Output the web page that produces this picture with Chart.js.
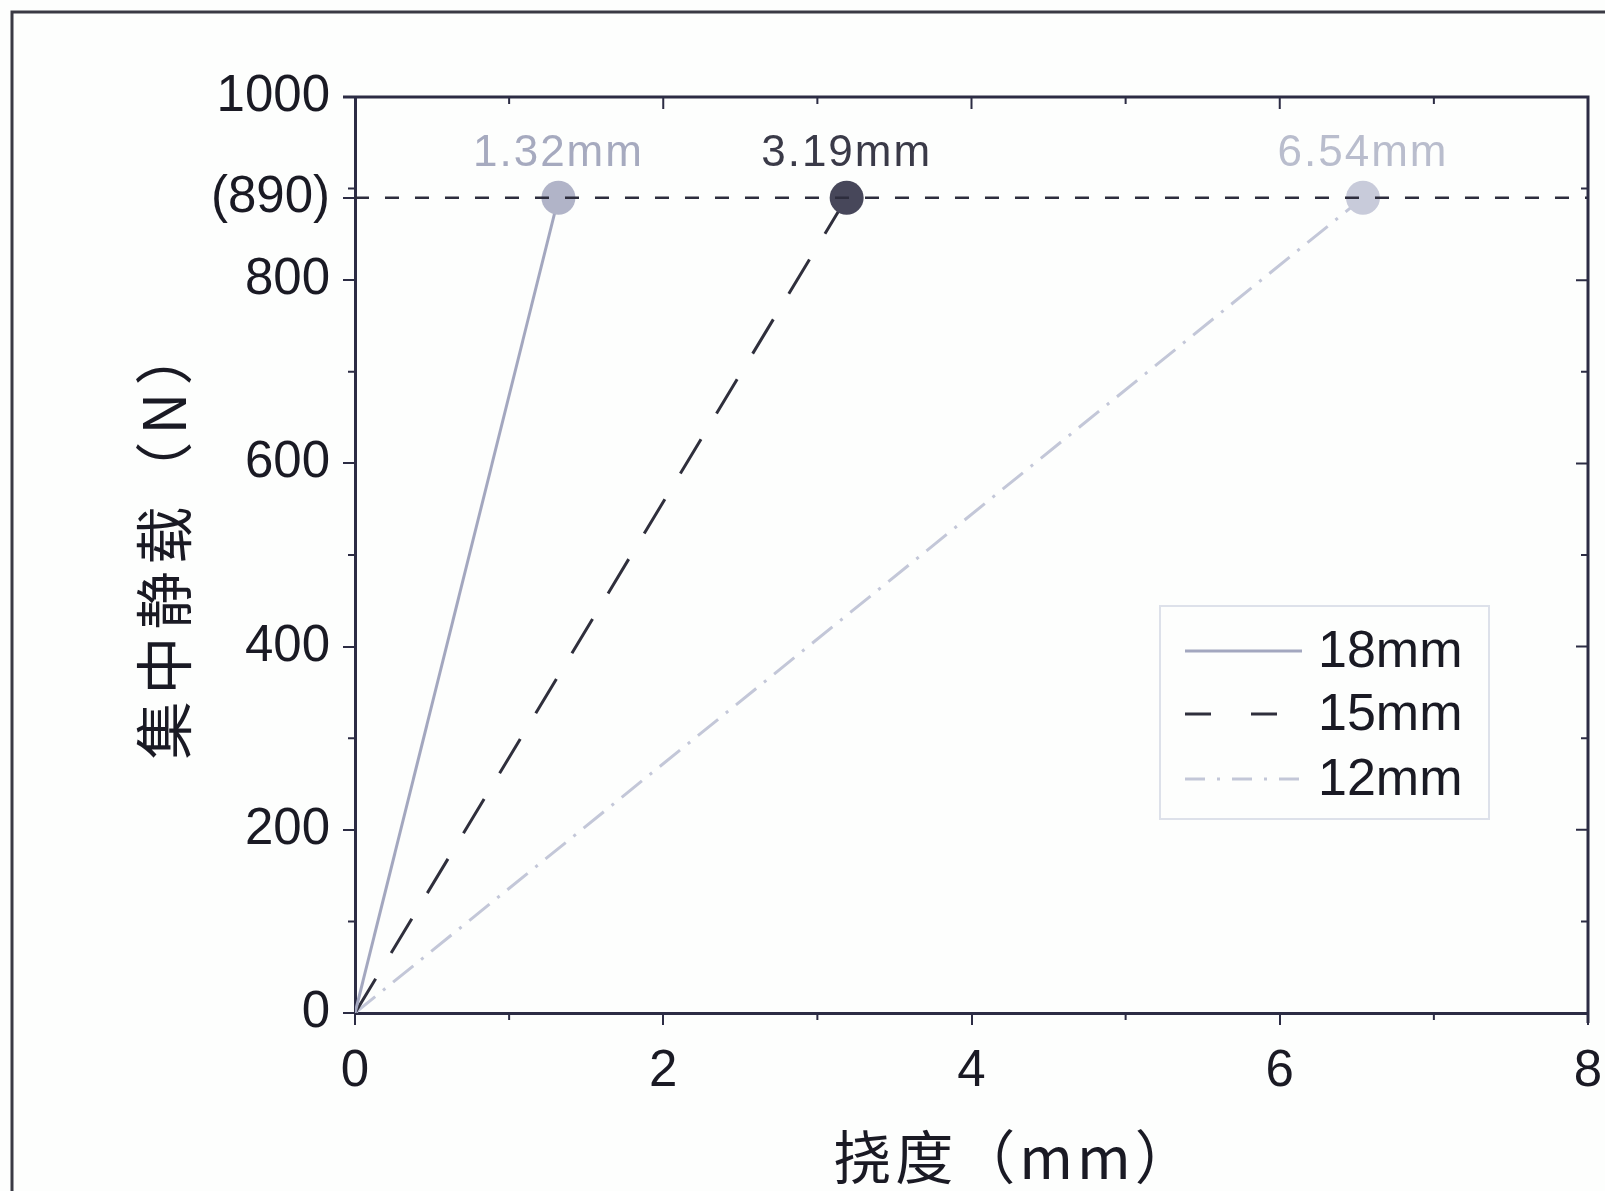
<!DOCTYPE html>
<html><head><meta charset="utf-8">
<script src="https://cdn.jsdelivr.net/npm/chart.js@4"></script>
<style>html,body{margin:0;padding:0;background:#fdfefd;} canvas{display:block}</style>
</head><body><canvas id="c" width="1605" height="1191"></canvas>
<script>
// ---- data ----
const seriesNames = ['18mm', '15mm', '12mm'];
const deflection18 = [0, 1.32];
const deflection15 = [0, 3.19];
const deflection12 = [0, 6.54];
const loadValues = [0, 890];
const limitLoad = 890;
const peakLabels = ['1.32mm', '3.19mm', '6.54mm'];
const xTicks = [0, 2, 4, 6, 8];
const yTicks = [0, 200, 400, 600, 800, 890, 1000];
const yTickLabels = ['0', '200', '400', '600', '800', '(890)', '1000'];
const xTitle = '挠度（mm）';
const yTitle = '集中静载（N）';

// ---- styles ----
const lineColors = ['#a3a7bf', '#2f2f3c', '#c3c7d8'];
const pointColors = ['#b1b4c8', '#47475a', '#c8cbda'];
const labelColors = ['#a6aabf', '#3a3a48', '#b9bdcd'];
const dashes = [[], [40, 30], [26, 10, 3, 10]];
const legendDashes = [[], [26, 40], [20, 12, 3, 12]];
const axisColor = '#2c2c44';
const textColor = '#1a1a24';

const toPts = (xs, ys) => xs.map((x, i) => ({x: x, y: ys[i]}));
const seriesX = [deflection18, deflection15, deflection12];

const datasets = seriesX.map((xs, i) => ({
  label: seriesNames[i],
  data: toPts(xs, loadValues),
  showLine: true,
  borderColor: lineColors[i],
  borderWidth: 3,
  borderDash: dashes[i],
  pointRadius: [0, 17],
  pointHoverRadius: [0, 17],
  pointBackgroundColor: pointColors[i],
  pointBorderWidth: 0,
  order: 1
}));
datasets.push({
  label: 'limit',
  data: [{x: xTicks[0], y: limitLoad}, {x: xTicks[xTicks.length - 1], y: limitLoad}],
  showLine: true,
  borderColor: '#2d2d3d',
  borderWidth: 2.5,
  borderDash: [14, 16],
  pointRadius: 0,
  order: 0
});

const extras = {
  id: 'extras',
  beforeDraw(chart) {
    const ctx = chart.ctx;
    ctx.save();
    ctx.fillStyle = '#fdfefd';
    ctx.fillRect(0, 0, chart.width, chart.height);
    ctx.strokeStyle = '#3a3a44';
    ctx.lineWidth = 3;
    ctx.beginPath();
    ctx.moveTo(12, 1191); ctx.lineTo(12, 12); ctx.lineTo(1605, 12);
    ctx.stroke();
    ctx.restore();
  },
  afterDraw(chart) {
    const ctx = chart.ctx;
    const a = chart.chartArea;
    const xs = chart.scales.x, ys = chart.scales.y;
    ctx.save();
    ctx.strokeStyle = axisColor;
    ctx.lineWidth = 3;
    ctx.beginPath();
    ctx.moveTo(a.left - 12, a.top); ctx.lineTo(a.right, a.top); ctx.lineTo(a.right, a.bottom + 10);
    ctx.stroke();
    ctx.lineWidth = 2;
    ctx.beginPath();
    for (let v = 0; v <= 1000; v += 100) {
      const y = ys.getPixelForValue(v);
      const major = v % 200 === 0;
      if (!major) { ctx.moveTo(a.left, y); ctx.lineTo(a.left - 7, y); }
      ctx.moveTo(a.right, y); ctx.lineTo(a.right - (major ? 12 : 7), y);
    }
    for (let v = 0; v <= 8; v += 1) {
      const x = xs.getPixelForValue(v);
      const major = v % 2 === 0;
      if (!major) { ctx.moveTo(x, a.bottom); ctx.lineTo(x, a.bottom + 7); }
      ctx.moveTo(x, a.top); ctx.lineTo(x, a.top + (major ? 12 : 7));
    }
    ctx.stroke();

    // peak labels
    ctx.font = '44px "Liberation Sans", Arial, sans-serif';
    ctx.letterSpacing = '2px';
    ctx.textAlign = 'center';
    ctx.textBaseline = 'middle';
    seriesX.forEach((arr, i) => {
      const x = xs.getPixelForValue(arr[arr.length - 1]);
      const y = ys.getPixelForValue(loadValues[loadValues.length - 1]);
      ctx.fillStyle = labelColors[i];
      ctx.fillText(peakLabels[i], x, y - 44);
    });
    ctx.letterSpacing = '0px';

    // legend
    ctx.strokeStyle = '#dde1ea';
    ctx.lineWidth = 2;
    ctx.strokeRect(1160, 606, 329, 213);
    const rows = [651, 714, 779];
    ctx.font = '52px "Liberation Sans", Arial, sans-serif';
    ctx.textAlign = 'left';
    seriesNames.forEach((n, i) => {
      ctx.strokeStyle = lineColors[i];
      ctx.lineWidth = 3;
      ctx.setLineDash(legendDashes[i]);
      ctx.beginPath();
      ctx.moveTo(1185, rows[i]); ctx.lineTo(1302, rows[i]);
      ctx.stroke();
      ctx.setLineDash([]);
      ctx.fillStyle = textColor;
      ctx.fillText(n, 1318, rows[i] + 2);
    });

    // axis titles
    ctx.fillStyle = textColor;
    ctx.font = '58px "Noto Sans CJK SC", sans-serif';
    ctx.letterSpacing = '4px';
    ctx.textAlign = 'center';
    ctx.textBaseline = 'middle';
    ctx.fillText(xTitle, 1015, 1157);
    ctx.translate(164, 540);
    ctx.rotate(-Math.PI / 2);
    ctx.letterSpacing = '7px';
    ctx.fillText(yTitle, 0, 0);
    ctx.restore();
  }
};

const tickFont = {family: '"Liberation Sans", Arial, sans-serif', size: 51};

new Chart(document.getElementById('c'), {
  type: 'scatter',
  data: {datasets: datasets},
  options: {
    responsive: false,
    animation: false,
    devicePixelRatio: 1,
    layout: {padding: {left: 0, top: 97, right: 15, bottom: 0}},
    plugins: {legend: {display: false}, tooltip: {enabled: false}},
    scales: {
      x: {
        type: 'linear',
        min: xTicks[0], max: xTicks[xTicks.length - 1],
        afterBuildTicks: s => { s.ticks = xTicks.map(v => ({value: v})); },
        afterFit: s => { s.height = 178; s.paddingLeft = 0; s.paddingRight = 0; },
        ticks: {font: tickFont, color: textColor, padding: 16, maxRotation: 0, autoSkip: false},
        grid: {display: true, drawOnChartArea: false, drawTicks: true, tickLength: 12, color: axisColor, lineWidth: 2},
        border: {display: true, color: axisColor, width: 3}
      },
      y: {
        type: 'linear',
        min: yTicks[0], max: yTicks[yTicks.length - 1],
        afterBuildTicks: s => { s.ticks = yTicks.map(v => ({value: v})); },
        afterFit: s => { s.width = 355; s.paddingTop = 0; s.paddingBottom = 0; },
        ticks: {
          font: tickFont, color: textColor, padding: 13, autoSkip: false,
          callback: v => yTickLabels[yTicks.indexOf(v)]
        },
        grid: {display: true, drawOnChartArea: false, drawTicks: true, tickLength: 12, color: axisColor, lineWidth: 2},
        border: {display: true, color: axisColor, width: 3}
      }
    }
  },
  plugins: [extras]
});
</script>
</body></html>
